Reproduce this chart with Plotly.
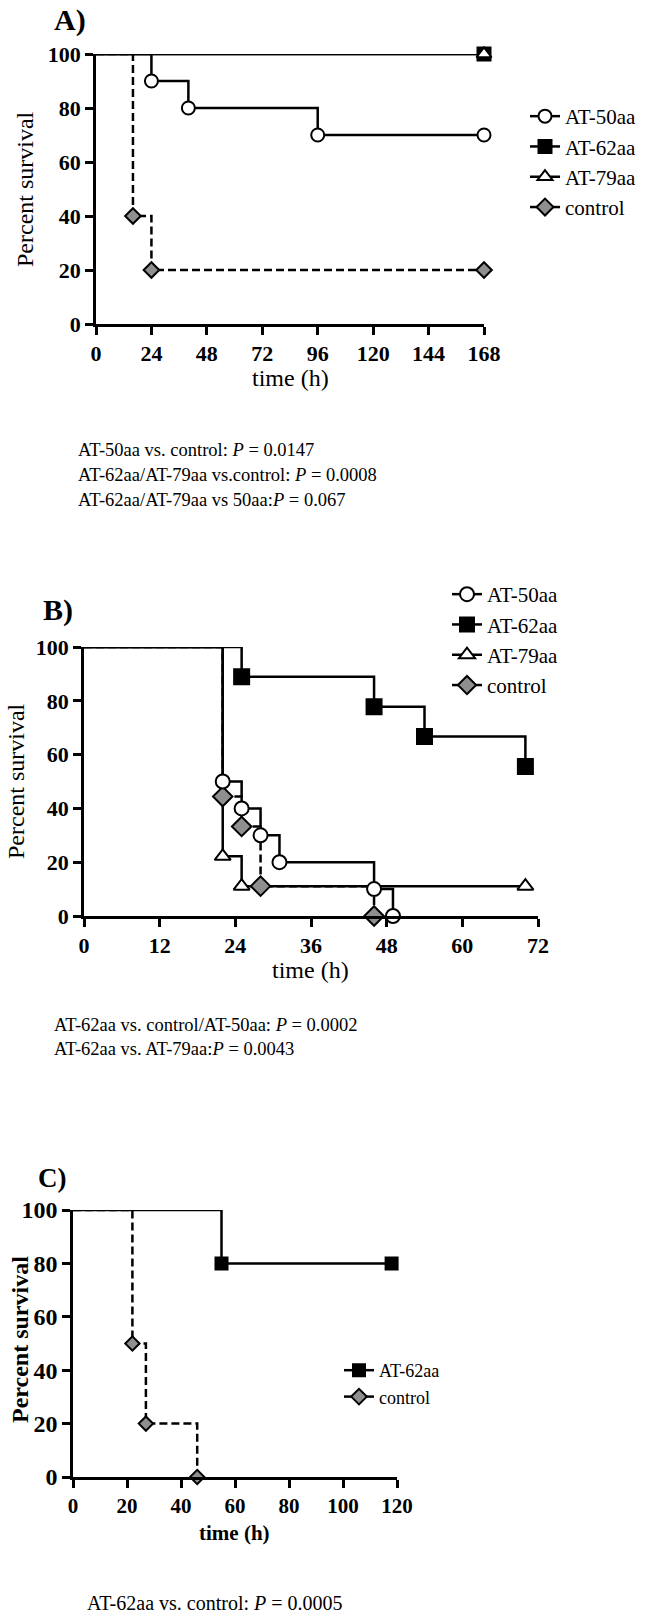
import plotly.graph_objects as go

W, H = 652, 1617
SERIF = "Liberation Serif, Times New Roman, serif"

# ---------------- data ----------------
series_names = ["AT-50aa", "AT-62aa", "AT-79aa", "control"]

# Panel A (time in h, percent survival)
A_time_50 = [0, 24, 40, 96, 168]
A_surv_50 = [100, 90, 80, 70, 70]
A_time_62 = [0, 168]
A_surv_62 = [100, 100]
A_time_79 = [0, 168]
A_surv_79 = [100, 100]
A_time_ctl = [0, 16, 24, 168]
A_surv_ctl = [100, 40, 20, 20]
A_xticks = [0, 24, 48, 72, 96, 120, 144, 168]

# Panel B
B_time_50 = [0, 22, 25, 28, 31, 46, 49]
B_surv_50 = [100, 50, 40, 30, 20, 10, 0]
B_time_62 = [0, 25, 46, 54, 70]
B_surv_62 = [100, 88.9, 77.8, 66.7, 55.6]
B_time_79 = [0, 22, 25, 70]
B_surv_79 = [100, 22.2, 11.1, 11.1]
B_time_ctl = [0, 22, 25, 28, 46]
B_surv_ctl = [100, 44.4, 33.3, 11.1, 0]
B_xticks = [0, 12, 24, 36, 48, 60, 72]

# Panel C
C_time_62 = [0, 55, 118]
C_surv_62 = [100, 80, 80]
C_time_ctl = [0, 22, 27, 46]
C_surv_ctl = [100, 50, 20, 0]
C_xticks = [0, 20, 40, 60, 80, 100, 120]

y_ticks = [0, 20, 40, 60, 80, 100]

A_stats = ["AT-50aa vs. control: <i>P</i> = 0.0147",
           "AT-62aa/AT-79aa vs.control: <i>P</i> = 0.0008",
           "AT-62aa/AT-79aa vs 50aa:<i>P</i> = 0.067"]
B_stats = ["AT-62aa vs. control/AT-50aa: <i>P</i> = 0.0002",
           "AT-62aa vs. AT-79aa:<i>P</i> = 0.0043"]
C_stats = ["AT-62aa vs. control: <i>P</i> = 0.0005"]

# ---------------- helpers ----------------
def px(x):
    return x / W

def py(y):
    return 1 - y / H

LW = 2.5
GRAY = "#8f8f8f"
STYLE = {
    "AT-50aa": dict(symbol="circle", color="white", dash="solid"),
    "AT-62aa": dict(symbol="square", color="black", dash="solid"),
    "AT-79aa": dict(symbol="triangle-up", color="white", dash="solid"),
    "control": dict(symbol="diamond", color=GRAY, dash="8px,4px"),
}

fig = go.Figure()

def add_series(name, t, s, xa, ya, msize):
    st = STYLE[name]
    fig.add_trace(go.Scatter(
        x=t, y=s, mode="lines", line=dict(shape="hv", color="black", width=LW, dash=st["dash"]),
        xaxis=xa, yaxis=ya, showlegend=False, hoverinfo="skip", cliponaxis=False))
    fig.add_trace(go.Scatter(
        x=t[1:], y=s[1:], mode="markers",
        marker=dict(symbol=st["symbol"], size=msize, color=st["color"],
                    line=dict(color="black", width=2)),
        xaxis=xa, yaxis=ya, showlegend=False, cliponaxis=False))

def add_legend_entry(name, legend, msize):
    st = STYLE[name]
    fig.add_trace(go.Scatter(
        x=[None], y=[None], mode="lines+markers", name=name, legend=legend,
        line=dict(color="black", width=LW, dash="solid"),
        marker=dict(symbol=st["symbol"], size=msize, color=st["color"],
                    line=dict(color="black", width=2)),
        xaxis="x", yaxis="y"))

# Panel A
add_series("AT-50aa", A_time_50, A_surv_50, "x", "y", 13)
add_series("AT-62aa", A_time_62, A_surv_62, "x", "y", 13)
add_series("AT-79aa", A_time_79, A_surv_79, "x", "y", 13)
add_series("control", A_time_ctl, A_surv_ctl, "x", "y", 12)
for n in series_names:
    add_legend_entry(n, "legend", 13)

# Panel B
add_series("AT-62aa", B_time_62, B_surv_62, "x2", "y2", 15)
add_series("AT-79aa", B_time_79, B_surv_79, "x2", "y2", 14)
add_series("control", B_time_ctl, B_surv_ctl, "x2", "y2", 15)
add_series("AT-50aa", B_time_50, B_surv_50, "x2", "y2", 14)
for n in series_names:
    add_legend_entry(n, "legend2", 14)

# Panel C
add_series("AT-62aa", C_time_62, C_surv_62, "x3", "y3", 12)
add_series("control", C_time_ctl, C_surv_ctl, "x3", "y3", 11)
for n in ["AT-62aa", "control"]:
    add_legend_entry(n, "legend3", 12)

def tickfont(size):
    return dict(family=SERIF, size=size, color="black", weight="bold")

def xaxis(domain, rng, ticks, anchor, fs=22):
    return dict(domain=domain, range=rng, tickvals=ticks, anchor=anchor,
                showline=True, linecolor="black", linewidth=LW, ticks="outside",
                ticklen=8, tickwidth=LW, tickcolor="black", showgrid=False,
                zeroline=False, tickfont=tickfont(fs), fixedrange=True)

def yaxis(domain, anchor, fs=22):
    return dict(domain=domain, range=[0, 100], tickvals=y_ticks, anchor=anchor,
                showline=True, linecolor="black", linewidth=LW, ticks="outside",
                ticklen=8, tickwidth=LW, tickcolor="black", showgrid=False,
                zeroline=False, tickfont=tickfont(fs), fixedrange=True)

legend_common = dict(xanchor="left", yanchor="top", bgcolor="rgba(0,0,0,0)",
                     borderwidth=0, itemclick=False, itemdoubleclick=False)

fig.update_layout(
    width=W, height=H,
    margin=dict(l=0, r=0, t=0, b=0, pad=0, autoexpand=False),
    font=dict(family=SERIF, color="black"),
    paper_bgcolor="white", plot_bgcolor="white",
    xaxis=xaxis([px(96), px(484)], [0, 168], A_xticks, "y"),
    yaxis=yaxis([py(324), py(54)], "x"),
    xaxis2=xaxis([px(84), px(538)], [0, 72], B_xticks, "y2"),
    yaxis2=yaxis([py(916), py(647)], "x2"),
    xaxis3=xaxis([px(73), px(397)], [0, 120], C_xticks, "y3", fs=21),
    yaxis3=yaxis([py(1477), py(1210)], "x3", fs=24),
    legend=dict(x=px(525), y=py(96), font=dict(family=SERIF, size=21, color="black"),
                **legend_common),
    legend2=dict(x=px(447), y=py(574), font=dict(family=SERIF, size=21, color="black"),
                 **legend_common),
    legend3=dict(x=px(339), y=py(1352), font=dict(family=SERIF, size=18, color="black"),
                 **legend_common),
)

def ann(text, x, y, size, bold=False, anchor="left", angle=0):
    fig.add_annotation(text=("<b>%s</b>" % text) if bold else text,
                       x=px(x), y=py(y), xref="paper", yref="paper",
                       xanchor=anchor, yanchor="middle", showarrow=False,
                       textangle=angle,
                       font=dict(family=SERIF, size=size, color="black"))

# panel labels
ann("A)", 52, 20, 30, bold=True)
ann("B)", 41, 610, 30, bold=True)
ann("C)", 36, 1178, 27, bold=True)

# axis titles
ann("Percent survival", 25, 189, 24, anchor="center", angle=-90)
ann("time (h)", 290, 378, 24, anchor="center")
ann("Percent survival", 16, 781, 24, anchor="center", angle=-90)
ann("time (h)", 310, 970, 24, anchor="center")
ann("Percent survival", 20, 1340, 24, bold=True, anchor="center", angle=-90)
ann("time (h)", 235, 1533, 21, bold=True, anchor="center")

# statistics text
for i, t in enumerate(A_stats):
    ann(t, 76, 450 + 25 * i, 18.5)
for i, t in enumerate(B_stats):
    ann(t, 52, 1025 + 24 * i, 18.5)
for i, t in enumerate(C_stats):
    ann(t, 85, 1603, 20)

fig.write_html("out.html", config={"displayModeBar": False},
               post_script="document.body.style.margin='0';document.body.style.overflow='hidden';")
